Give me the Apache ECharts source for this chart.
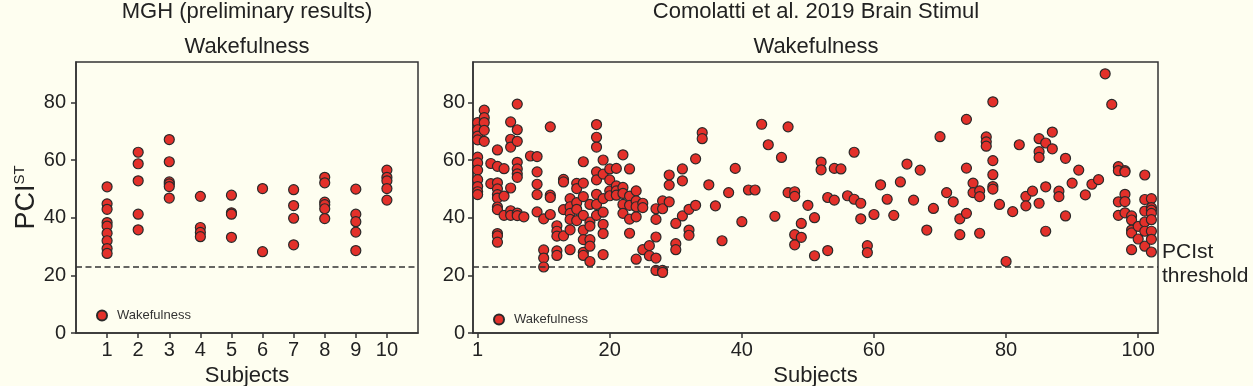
<!DOCTYPE html>
<html><head><meta charset="utf-8">
<script src="https://cdn.jsdelivr.net/npm/echarts@6/dist/echarts.min.js"></script>
<style>html,body{margin:0;padding:0;background:#fefef0}#c{width:1253px;height:386px}</style>
</head><body><div id="c"></div><script>
// ---- data ----
const mghSubjects = [1, 2, 3, 4, 5, 6, 7, 8, 9, 10];
const mghPCI = [
  [50.7, 44.8, 42.9, 38.3, 37.1, 34.6, 32.0, 29.3, 27.6],
  [62.7, 58.7, 52.8, 41.2, 35.8],
  [67.1, 59.4, 52.4, 51.7, 50.8, 46.8],
  [47.4, 36.6, 34.9, 33.4],
  [47.8, 41.7, 41.2, 33.2],
  [50.1, 28.2],
  [49.7, 44.2, 39.8, 30.6],
  [54.0, 52.1, 45.4, 44.5, 43.1, 39.7],
  [49.9, 41.2, 38.6, 35.0, 28.6],
  [56.5, 54.0, 52.8, 50.1, 46.1]
];
// Comolatti et al.: one list per subject position (position 0 is labelled "1")
const comolattiPCI = [
  [73, 70.5, 68.3, 67, 61, 59, 56.5, 53.2, 50.8, 49, 48],
  [77.3, 74.7, 73, 70.3, 66.5],
  [58.8, 51.8],
  [63.5, 57.8, 52.1, 50, 48, 46.8, 43.7, 42.8, 34.5, 33.7, 31.5],
  [57, 47.5, 40.8],
  [73.2, 67.2, 64.5, 50.3, 42.4, 40.8],
  [79.4, 70.5, 66.5, 59.2, 56.9, 55.2, 54, 41.6, 40.7],
  [40.3],
  [61.4],
  [61.2, 55.9, 51.6, 48, 42],
  [39.6, 28.8, 26, 22.9],
  [71.5, 47.8, 47.0, 41.1],
  [37.2, 35.3, 33.6, 28.5, 26.9],
  [53.3, 52.4, 42.8, 33.7],
  [46.6, 43.8, 41.5, 39.4, 35.8, 28.9],
  [51.9, 50.1, 45.2, 42.9, 39.0],
  [59.4, 52.0, 47.3, 40.8, 35.7, 32.4, 28.0, 26.9],
  [44.6, 38.5, 37.1, 32.4, 30.1, 24.8],
  [72.3, 67.9, 64.5, 55.9, 53.1, 48.1, 44.6, 40.8],
  [60.0, 55.1, 46.6, 41.9, 37.7, 34.5, 27.2],
  [56.9, 53.1, 49.3, 47.6],
  [57.1, 51.0, 49.3, 47.8],
  [61.8, 50.5, 48.4, 44.6, 41.5],
  [56.9, 47.5, 44.3, 39.5, 34.6],
  [49.3, 45.8, 43.8, 40.3, 25.6],
  [45.0, 43.5, 28.9],
  [30.3, 26.8],
  [43.1, 39.4, 33.3, 26.0, 21.7],
  [45.8, 43.1, 21.7, 21.0],
  [54.8, 51.3, 45.5],
  [38.0, 31.0, 28.9],
  [56.9, 52.8, 40.6],
  [42.9, 35.7, 33.9],
  [60.4, 44.3],
  [69.5, 67.4],
  [51.4],
  [44.1],
  [32.0],
  [48.7],
  [57.1],
  [38.6],
  [49.6],
  [49.6],
  [72.4],
  [65.3],
  [40.5],
  [60.9],
  [71.5, 48.7],
  [49.0, 47.4, 34.1, 30.6],
  [38.0, 33.2],
  [44.3],
  [40.0, 26.8],
  [59.3, 56.6],
  [47.0, 28.6],
  [57.1, 46.1],
  [56.9],
  [47.6],
  [62.7, 46.4],
  [45.0, 39.6],
  [30.3, 27.9],
  [41.1],
  [51.4],
  [46.4],
  [40.8],
  [52.4],
  [58.6],
  [46.1],
  [56.5],
  [35.7],
  [43.2],
  [68.1],
  [48.7],
  [45.5],
  [39.6, 34.1],
  [74.1, 57.2, 41.5],
  [52.0, 48.7],
  [49.3, 47.3, 34.6],
  [68.0, 66.3, 64.8],
  [80.2, 59.8, 54.9, 50.8, 49.9],
  [44.6],
  [24.8],
  [42.1],
  [65.3],
  [47.4, 44.1],
  [49.2],
  [67.4, 62.9, 60.9, 45.0],
  [65.9, 50.7, 35.3],
  [69.7, 63.9],
  [49.2, 47.3],
  [60.6, 40.6],
  [52.0],
  [56.5],
  [47.9],
  [51.6],
  [53.2],
  [89.9],
  [79.3],
  [57.7, 56.3, 45.5, 40.8],
  [56.3, 55.9, 48.1, 45.6, 41.7],
  [40.6, 39.2, 35.7, 34.7, 28.9],
  [37.0, 32.6],
  [54.8, 46.3, 42.3, 38.5, 35.3, 30.1],
  [46.6, 43.5, 42.6, 41.5, 39.3, 35.3, 32.5, 28.1]
];
const yTicks = [0, 20, 40, 60, 80];
const mghXTicks = [1, 2, 3, 4, 5, 6, 7, 8, 9, 10];
const comolattiXTicks = [0, 20, 40, 60, 80, 100];
const comolattiXLabels = ['1', '20', '40', '60', '80', '100'];
const threshold = 23;
const seriesName = 'Wakefulness';

// ---- build ----
const mghData = [];
mghPCI.forEach((vals, i) => vals.forEach(v => mghData.push([mghSubjects[i], v])));
const comData = [];
comolattiPCI.forEach((vals, i) => vals.forEach(v => comData.push([i, v])));

const FONT = '"Liberation Sans", Arial, sans-serif';
const INK = '#222';
const BG = '#fefef0';
const markerStyle = { color: '#e3302a', borderColor: '#2a2a2a', borderWidth: 1.2, opacity: 1 };
const thresholdLine = {
  silent: true, symbol: ['none', 'none'], label: { show: false },
  lineStyle: { color: '#333', width: 1.5, type: [6, 3.5] },
  data: [{ yAxis: threshold }]
};
function yAxisCfg(gridIndex, margin, name) {
  return {
    gridIndex, type: 'value', min: 0, max: 94,
    axisLine: { show: true, onZero: false, lineStyle: { color: '#333', width: 1.5 } },
    axisTick: { show: true, length: 5, customValues: yTicks, lineStyle: { color: '#333', width: 1.5 } },
    axisLabel: { customValues: yTicks, fontSize: 20, color: INK, fontFamily: FONT, margin },
    splitLine: { show: false },
    name: name || '', nameLocation: 'middle', nameGap: 36, nameRotate: 90,
    nameTextStyle: {
      color: INK, fontFamily: FONT,
      rich: {
        a: { fontSize: 27, color: INK, fontFamily: FONT },
        b: { fontSize: 15, color: INK, fontFamily: FONT, verticalAlign: 'top', padding: [0, 0, 10, 0] }
      }
    }
  };
}
function xAxisBase(gridIndex, min, max, ticks, formatter) {
  return {
    gridIndex, type: 'value', min, max,
    axisLine: { show: true, onZero: false, lineStyle: { color: '#333', width: 1.5 } },
    axisTick: { show: true, length: 5, customValues: ticks, lineStyle: { color: '#333', width: 1.5 } },
    axisLabel: { customValues: ticks, fontSize: 20, color: INK, fontFamily: FONT, margin: 7, formatter },
    splitLine: { show: false },
    name: 'Subjects', nameLocation: 'middle', nameGap: 27,
    nameTextStyle: { fontSize: 22, color: INK, fontFamily: FONT }
  };
}
const gridBase = { top: 62, height: 271, show: true, borderColor: '#333', borderWidth: 1.5, backgroundColor: 'transparent', containLabel: false, outerBoundsMode: 'none' };
const option = {
  backgroundColor: BG,
  animation: false,
  textStyle: { fontFamily: FONT },
  grid: [
    Object.assign({ left: 76, width: 342 }, gridBase),
    Object.assign({ left: 473, width: 685 }, gridBase)
  ],
  xAxis: [
    xAxisBase(0, 0, 11, mghXTicks, v => String(v)),
    xAxisBase(1, -0.7, 103, comolattiXTicks, v => comolattiXLabels[comolattiXTicks.indexOf(v)])
  ],
  yAxis: [yAxisCfg(0, 10, '{a|PCI}{b|ST}'), yAxisCfg(1, 8, '')],
  legend: [
    {
      data: [seriesName], left: 91, top: 304, icon: 'circle', itemWidth: 10, itemHeight: 10,
      textStyle: { fontSize: 13, color: '#333', fontFamily: FONT, padding: [0, 0, 0, 5] }, selectedMode: false
    },
    {
      data: [seriesName], left: 488, top: 308, icon: 'circle', itemWidth: 10, itemHeight: 10,
      textStyle: { fontSize: 13, color: '#333', fontFamily: FONT, padding: [0, 0, 0, 5] }, selectedMode: false
    }
  ],
  graphic: [
    { type: 'text', x: 247, y: 12, style: { text: 'MGH (preliminary results)', fontSize: 22, fill: INK, fontFamily: FONT, align: 'center', verticalAlign: 'middle' } },
    { type: 'text', x: 247, y: 47, style: { text: 'Wakefulness', fontSize: 22, fill: INK, fontFamily: FONT, align: 'center', verticalAlign: 'middle' } },
    { type: 'text', x: 816, y: 12, style: { text: 'Comolatti et al. 2019 Brain Stimul', fontSize: 22, fill: INK, fontFamily: FONT, align: 'center', verticalAlign: 'middle' } },
    { type: 'text', x: 816, y: 47, style: { text: 'Wakefulness', fontSize: 22, fill: INK, fontFamily: FONT, align: 'center', verticalAlign: 'middle' } },
    { type: 'text', x: 1162, y: 240, style: { text: 'PCIst\nthreshold', fontSize: 21, lineHeight: 24, fill: INK, fontFamily: FONT, align: 'left', verticalAlign: 'top' } }
  ],
  series: [
    {
      name: seriesName, type: 'scatter', xAxisIndex: 0, yAxisIndex: 0, data: mghData,
      symbol: 'circle', symbolSize: 10, itemStyle: markerStyle, markLine: thresholdLine, z: 3
    },
    {
      name: seriesName, type: 'scatter', xAxisIndex: 1, yAxisIndex: 1, data: comData,
      symbol: 'circle', symbolSize: 10, itemStyle: markerStyle, markLine: thresholdLine, z: 3
    }
  ]
};
const chart = echarts.init(document.getElementById('c'), null, { renderer: 'canvas' });
chart.setOption(option);
</script></body></html>
